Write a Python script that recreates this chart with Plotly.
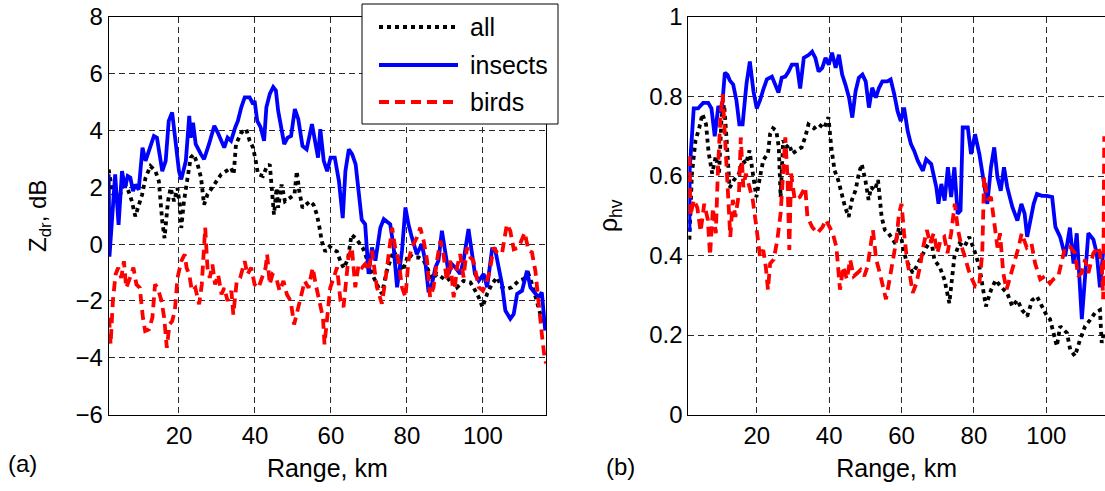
import plotly.graph_objects as go

# ---------------- data: Zdr (left panel) ----------------
zdr_ins_x = [1.5, 1.7, 3.2, 4.1, 5.0, 5.8, 6.5, 7.2, 7.9, 8.5, 9.4, 9.8, 10.4, 11.2, 12.0, 13.4, 14.2, 15.6, 16.5, 17.3,
             18.2, 19.1, 20.0, 20.6, 21.8, 22.7, 23.1, 23.7, 24.4, 25.8, 26.6, 27.9, 29.3, 30.2, 31.2, 31.9, 32.8, 33.7, 34.8, 35.5,
             36.4, 37.3, 38.6, 39.5, 39.9, 40.6, 41.5, 42.4, 43.0, 43.9, 44.8, 45.5, 46.1, 47.0, 47.7, 48.6, 49.5, 50.5, 51.4, 52.5,
             53.6, 55.0, 55.7, 56.6, 57.2, 58.1, 59.0, 59.9, 61.0, 62.1, 63.1, 63.8, 64.7, 65.6, 66.5, 67.3, 68.1, 69.0, 69.9, 70.8,
             71.7, 73.0, 73.9, 75.6, 76.5, 77.4, 78.7, 79.6, 80.4, 81.3, 82.6, 83.9, 84.8, 85.7, 86.6, 87.5, 88.3, 89.2, 90.1, 91.0,
             91.8, 92.7, 94.0, 94.9, 96.2, 97.1, 97.9, 98.9, 100.2, 101.1, 102.4, 103.2, 104.1, 105.0, 105.9, 107.2, 108.1, 109.0, 110.3, 111.6,
             112.5, 113.3, 114.6, 115.5, 116.4]
zdr_ins_y = [2.46, -0.44, 2.46, 0.68, 2.57, 1.98, 2.4, 2.34, 1.87, 2.1, 1.92, 2.57, 3.4, 2.93, 3.28, 3.81, 3.75, 2.57, 2.93, 4.34,
             4.64, 3.64, 2.57, 2.28, 2.93, 4.52, 3.75, 4.28, 3.52, 3.16, 2.99, 3.52, 4.17, 3.93, 3.58, 3.4, 3.75, 3.64, 4.11, 4.34,
             4.82, 5.17, 5.17, 4.93, 5.05, 4.34, 4.11, 3.64, 4.82, 5.29, 5.53, 5.41, 4.7, 3.93, 3.52, 3.75, 3.81, 4.76, 4.4, 3.46,
             3.34, 4.23, 3.75, 3.05, 4.05, 2.93, 2.57, 3.05, 3.05, 2.22, 0.92, 2.57, 3.34, 3.16, 2.81, 1.75, 0.86, 0.7, -1.05, -0.12,
             -0.58, 0.58, 0.88, 0.7, -0.12, -1.52, -0.23, 1.29, 0.7, 0.23, -0.35, 0.0, -0.58, -1.7, -1.4, -0.82, -0.58, 0.47, -0.35, -1.05,
             -0.7, -0.82, -1.05, -0.58, 0.53, -0.35, -1.05, -1.29, -1.05, -1.52, -0.18, -0.18, -0.82, -1.4, -2.34, -2.63, -2.46, -1.75, -1.64, -0.94,
             -1.52, -1.64, -1.87, -1.7, -3.04]

zdr_all_x = [1.5, 2.5, 4.0, 5.5, 6.7, 7.6, 8.5, 9.4, 10.3, 11.2, 12.5, 13.8, 14.7, 15.6, 16.2, 17.1, 17.8, 18.7, 19.6, 20.3,
             20.6, 21.3, 22.2, 23.1, 23.9, 24.9, 25.8, 26.6, 27.5, 28.6, 29.7, 31.1, 32.4, 33.7, 34.4, 35.0, 36.4, 37.7, 38.6, 39.5,
             40.2, 40.8, 42.1, 43.0, 43.9, 44.3, 45.0, 45.7, 46.1, 47.0, 47.9, 49.2, 50.4, 51.0, 51.6, 52.5, 53.4, 54.5, 55.4, 56.3,
             57.0, 57.6, 58.5, 59.6, 60.7, 61.6, 62.5, 63.4, 64.5, 65.4, 66.5, 67.3, 68.4, 69.1, 70.8, 72.5, 73.4, 74.7, 76.5, 77.8,
             78.9, 80.4, 81.8, 83.1, 84.4, 85.7, 86.6, 87.9, 89.2, 90.5, 91.8, 93.2, 94.9, 96.7, 97.5, 98.9, 99.9, 101.1, 102.4, 103.7,
             105.0, 106.3, 107.6, 109.4, 110.7, 112.0, 112.9, 113.8, 115.1, 116.4]
zdr_all_y = [2.63, 1.8, 1.5, 2.2, 1.87, 1.51, 0.98, 1.39, 1.75, 2.34, 2.75, 2.57, 2.22, 0.8, 0.21, 1.51, 1.98, 1.51, 1.98, 1.28,
             0.57, 1.51, 2.34, 3.05, 3.16, 2.81, 2.34, 1.39, 1.75, 1.98, 2.16, 2.46, 2.57, 2.69, 2.46, 3.52, 3.93, 4.05, 3.64, 3.4,
             2.93, 2.46, 2.4, 2.69, 2.81, 2.1, 1.04, 1.98, 1.28, 2.1, 1.51, 1.63, 1.75, 2.57, 1.92, 1.28, 1.39, 1.51, 1.39, 1.04,
             0.57, 0.09, -0.26, -0.08, -0.2, -0.26, -0.61, -0.85, -0.5, 0.33, 0.21, 0.04, -0.14, -0.38, -1.05, -1.52, -1.75, -0.94, -0.23, -0.58,
             -0.94, -0.35, -0.47, -0.47, -0.58, -0.94, -1.23, -1.05, -1.17, -1.29, -1.17, -1.52, -1.29, -1.35, -1.52, -1.87, -2.22, -1.75, -1.4, -1.17,
             -1.52, -1.58, -1.52, -1.29, -1.23, -1.05, -1.4, -1.87, -2.46, -2.92]

zdr_brd_x = [1.6, 2.0, 2.6, 3.3, 4.0, 4.8, 5.5, 6.1, 7.1, 8.0, 8.8, 9.7, 10.5, 11.1, 12.1, 13.0, 13.7, 14.4, 15.4, 16.1,
             16.8, 17.5, 18.2, 18.9, 19.6, 20.6, 21.5, 22.0, 22.7, 23.4, 24.3, 25.3, 26.0, 26.9, 27.5, 28.1, 28.8, 29.5, 30.3, 31.2,
             31.9, 32.8, 33.8, 34.3, 35.2, 36.1, 37.3, 38.0, 39.0, 39.9, 40.9, 41.8, 42.8, 43.2, 43.9, 44.6, 45.6, 46.5, 47.5, 48.4,
             49.4, 50.3, 51.3, 52.2, 53.1, 54.1, 55.2, 56.0, 56.9, 57.9, 58.3, 59.0, 59.8, 60.7, 61.6, 62.5, 63.3, 64.6, 65.5, 66.4,
             67.3, 68.2, 69.0, 69.9, 70.8, 72.1, 73.4, 74.3, 75.2, 76.1, 76.9, 77.8, 78.7, 79.6, 80.4, 81.3, 82.6, 83.5, 84.4, 85.3,
             86.1, 87.0, 87.9, 88.8, 89.6, 90.5, 91.4, 92.3, 93.2, 94.0, 94.9, 95.8, 96.7, 97.5, 98.9, 100.0, 100.8, 101.8, 102.8, 103.7,
             105.0, 106.3, 107.2, 108.1, 109.4, 111.0, 112.0, 112.9, 113.8, 114.6, 115.5, 116.2, 116.6]
zdr_brd_y = [-2.59, -3.53, -2.0, -1.07, -0.83, -1.19, -0.6, -1.54, -1.19, -0.83, -1.42, -1.54, -2.59, -3.06, -3.0, -2.59, -1.42, -1.54, -2.0, -2.59,
             -3.65, -2.83, -2.71, -2.36, -1.19, -0.6, -0.36, -0.83, -1.07, -1.65, -1.54, -2.12, -1.42, 0.58, -0.83, -1.19, -0.72, -1.42, -1.07, -1.77,
             -1.54, -2.0, -1.65, -2.48, -1.3, -1.19, -0.6, -1.07, -0.83, -1.42, -1.54, -1.19, -0.83, -0.36, -1.42, -1.07, -1.19, -1.65, -1.3, -1.77,
             -2.0, -2.83, -2.24, -1.77, -1.3, -1.54, -0.83, -1.42, -2.0, -2.59, -3.53, -2.59, -1.54, -1.19, -0.82, -1.99, -2.22, -0.47, -0.12, -1.52,
             -0.7, -0.82, -0.7, -0.94, -0.23, -1.52, -2.1, -1.29, -0.47, 0.58, -0.12, -0.58, -1.52, -1.87, -0.58, -0.12, 0.23, 0.58, 0.12, -0.58,
             -1.87, -1.52, -0.58, 0.12, -0.35, -1.29, -0.58, -1.87, -0.82, -0.35, -1.17, -0.12, -0.47, -0.58, -1.52, -1.64, -1.4, -0.94, -0.12, -0.29,
             -0.35, 0.7, 0.47, -0.18, -0.12, 0.41, -0.23, -0.29, -0.94, -2.1, -3.16, -3.98, -4.2]

# ---------------- data: rho_hv (right panel) ----------------
rho_ins_x = [1.4, 1.5, 2.1, 2.6, 3.8, 5.2, 6.6, 7.5, 8.4, 9.4, 10.3, 11.2, 11.9, 12.6, 13.5, 14.4, 15.2, 16.1, 16.8, 17.2,
             18.1, 19.1, 20.0, 20.9, 21.9, 22.8, 24.2, 25.1, 26.0, 26.9, 27.9, 28.8, 29.7, 31.1, 32.0, 33.0, 34.4, 35.3, 36.2, 37.1,
             38.1, 39.0, 39.9, 40.8, 41.8, 42.7, 43.6, 44.5, 45.5, 46.4, 47.3, 48.2, 49.2, 50.1, 51.0, 51.9, 52.9, 53.8, 54.7, 56.1,
             57.0, 58.0, 58.9, 59.8, 60.7, 61.7, 62.6, 63.5, 64.5, 65.9, 66.8, 68.2, 69.6, 70.2, 71.0, 71.9, 72.8, 73.7, 74.6, 75.5,
             76.3, 76.9, 78.3, 79.2, 80.3, 81.5, 82.4, 83.7, 84.7, 85.6, 86.5, 87.4, 88.3, 89.2, 90.6, 92.0, 93.1, 94.0, 94.7, 95.6,
             96.5, 97.4, 98.8, 100.2, 101.6, 102.5, 103.8, 105.2, 106.5, 107.5, 108.4, 109.8, 110.7, 111.6, 113.0, 113.9, 114.8, 115.7]
rho_ins_y = [0.46, 0.62, 0.7, 0.77, 0.77, 0.784, 0.784, 0.77, 0.70, 0.776, 0.76, 0.86, 0.855, 0.84, 0.83, 0.79, 0.73, 0.73, 0.797, 0.834,
             0.888, 0.813, 0.77, 0.79, 0.82, 0.843, 0.85, 0.83, 0.81, 0.847, 0.85, 0.863, 0.88, 0.88, 0.82, 0.897, 0.905, 0.913, 0.897, 0.863,
             0.872, 0.897, 0.88, 0.91, 0.872, 0.905, 0.855, 0.83, 0.797, 0.747, 0.813, 0.847, 0.855, 0.838, 0.772, 0.822, 0.797, 0.822, 0.838, 0.838,
             0.843, 0.805, 0.763, 0.738, 0.772, 0.713, 0.68, 0.663, 0.638, 0.613, 0.642, 0.63, 0.572, 0.53, 0.58, 0.538, 0.622, 0.547, 0.622, 0.505,
             0.513, 0.722, 0.722, 0.655, 0.705, 0.655, 0.597, 0.53, 0.622, 0.672, 0.597, 0.563, 0.622, 0.572, 0.522, 0.488, 0.53, 0.505, 0.447, 0.488,
             0.53, 0.555, 0.55, 0.55, 0.547, 0.472, 0.447, 0.398, 0.47, 0.38, 0.456, 0.24, 0.356, 0.456, 0.44, 0.406, 0.32, 0.41]

rho_all_x = [1.4, 2.1, 3.1, 4.1, 5.0, 6.0, 6.7, 7.7, 8.7, 9.6, 10.3, 11.0, 11.7, 12.5, 13.7, 15.1, 16.1, 17.0, 18.0, 18.9,
             19.9, 20.9, 21.8, 23.1, 23.7, 24.5, 25.4, 26.1, 26.6, 27.3, 28.1, 29.0, 29.8, 31.0, 32.4, 33.4, 34.3, 35.8, 37.2, 38.6,
             39.8, 40.6, 41.5, 42.5, 43.4, 44.4, 45.4, 46.3, 47.3, 48.2, 49.0, 50.0, 50.9, 51.6, 52.6, 53.5, 54.5, 55.4, 56.4, 57.4,
             58.3, 59.3, 60.3, 61.2, 62.2, 63.1, 64.1, 65.5, 66.8, 68.2, 69.1, 70.5, 71.9, 73.2, 74.6, 76.0, 77.4, 78.7, 80.1, 81.5,
             83.3, 84.7, 86.0, 87.4, 89.2, 90.6, 92.0, 93.3, 94.7, 96.1, 97.4, 98.8, 100.2, 101.0, 102.0, 102.9, 103.8, 105.7, 106.6, 107.9,
             109.3, 110.7, 112.1, 113.4, 114.8, 115.3, 115.9]
rho_all_y = [0.44, 0.606, 0.69, 0.72, 0.756, 0.73, 0.66, 0.606, 0.65, 0.606, 0.75, 0.78, 0.69, 0.57, 0.59, 0.606, 0.64, 0.63, 0.664, 0.606,
             0.547, 0.597, 0.64, 0.656, 0.706, 0.72, 0.714, 0.672, 0.547, 0.69, 0.672, 0.68, 0.656, 0.664, 0.672, 0.698, 0.73, 0.72, 0.73, 0.72,
             0.748, 0.672, 0.614, 0.59, 0.556, 0.522, 0.497, 0.54, 0.564, 0.606, 0.63, 0.59, 0.54, 0.572, 0.564, 0.59, 0.497, 0.464, 0.456, 0.44,
             0.43, 0.47, 0.422, 0.39, 0.372, 0.356, 0.372, 0.397, 0.42, 0.438, 0.388, 0.372, 0.338, 0.28, 0.397, 0.43, 0.422, 0.447, 0.413, 0.372,
             0.272, 0.313, 0.338, 0.322, 0.305, 0.272, 0.288, 0.263, 0.247, 0.288, 0.297, 0.272, 0.247, 0.24, 0.205, 0.172, 0.222, 0.205, 0.163, 0.147,
             0.188, 0.222, 0.238, 0.255, 0.263, 0.18, 0.206]

rho_brd_x = [1.4, 1.7, 2.6, 3.6, 4.5, 5.5, 6.5, 7.1, 7.9, 8.7, 9.3, 10.0, 10.6, 11.3, 11.9, 12.7, 13.4, 14.1, 15.1, 15.6,
             16.3, 17.0, 18.0, 18.9, 19.9, 20.9, 21.8, 22.5, 23.1, 23.7, 24.7, 25.7, 26.6, 27.3, 27.9, 28.5, 29.0, 29.5, 30.5, 31.9,
             33.4, 34.0, 35.3, 36.7, 38.2, 39.1, 40.1, 41.0, 42.0, 43.0, 43.9, 44.9, 45.8, 46.8, 47.8, 48.7, 49.7, 50.6, 52.1, 53.0,
             54.0, 55.0, 55.7, 56.7, 57.7, 58.6, 59.3, 60.0, 60.7, 61.5, 62.5, 63.1, 64.1, 65.1, 66.0, 67.0, 67.9, 68.9, 69.9, 70.8,
             71.8, 72.7, 73.7, 74.7, 75.6, 76.6, 77.5, 78.5, 79.5, 80.4, 81.4, 82.3, 82.8, 83.8, 84.7, 85.7, 86.5, 87.2, 88.1, 89.0,
             90.9, 92.3, 93.2, 94.6, 95.9, 96.9, 98.3, 99.6, 101.0, 101.9, 103.3, 104.2, 105.2, 106.5, 107.9, 108.8, 109.8, 110.7, 111.6, 113.0,
             114.4, 115.3, 115.7, 116.0]
rho_brd_y = [0.65, 0.5, 0.54, 0.52, 0.46, 0.53, 0.49, 0.4, 0.52, 0.456, 0.62, 0.75, 0.806, 0.69, 0.62, 0.447, 0.54, 0.497, 0.556, 0.697,
             0.572, 0.606, 0.572, 0.54, 0.472, 0.397, 0.414, 0.372, 0.314, 0.38, 0.39, 0.44, 0.506, 0.622, 0.697, 0.597, 0.414, 0.606, 0.54, 0.547,
             0.572, 0.497, 0.472, 0.456, 0.472, 0.49, 0.472, 0.456, 0.422, 0.314, 0.372, 0.34, 0.39, 0.348, 0.356, 0.364, 0.348, 0.372, 0.464, 0.39,
             0.356, 0.322, 0.29, 0.34, 0.39, 0.44, 0.506, 0.53, 0.456, 0.39, 0.34, 0.306, 0.33, 0.372, 0.422, 0.464, 0.43, 0.456, 0.406, 0.44,
             0.447, 0.406, 0.456, 0.53, 0.464, 0.422, 0.397, 0.364, 0.34, 0.322, 0.322, 0.406, 0.597, 0.54, 0.547, 0.472, 0.42, 0.456, 0.356, 0.314,
             0.372, 0.42, 0.456, 0.42, 0.43, 0.38, 0.34, 0.348, 0.33, 0.34, 0.348, 0.38, 0.422, 0.422, 0.406, 0.348, 0.356, 0.39, 0.356, 0.406,
             0.422, 0.38, 0.29, 0.7]

series_names = ["all", "insects", "birds"]
x_ticks = [20, 40, 60, 80, 100]

for nm, xs, ys in [("zdr_ins", zdr_ins_x, zdr_ins_y), ("zdr_all", zdr_all_x, zdr_all_y), ("zdr_brd", zdr_brd_x, zdr_brd_y),
                   ("rho_ins", rho_ins_x, rho_ins_y), ("rho_all", rho_all_x, rho_all_y), ("rho_brd", rho_brd_x, rho_brd_y)]:
    assert len(xs) == len(ys), (nm, len(xs), len(ys))

FONT = "Liberation Sans, Arial, sans-serif"
styles = {
    "all": dict(color="black", width=3.8, dash="4px,4px"),
    "insects": dict(color="#0000FF", width=3.8, dash="solid"),
    "birds": dict(color="#FF0000", width=3.8, dash="10px,6px"),
}

fig = go.Figure()
left = {"all": (zdr_all_x, zdr_all_y), "insects": (zdr_ins_x, zdr_ins_y), "birds": (zdr_brd_x, zdr_brd_y)}
right = {"all": (rho_all_x, rho_all_y), "insects": (rho_ins_x, rho_ins_y), "birds": (rho_brd_x, rho_brd_y)}
for nm in series_names:
    xs, ys = left[nm]
    fig.add_trace(go.Scatter(x=xs, y=ys, mode="lines", name=nm, line=styles[nm], showlegend=False,
                             xaxis="x", yaxis="y"))
for nm in series_names:
    xs, ys = right[nm]
    fig.add_trace(go.Scatter(x=xs, y=ys, mode="lines", name=nm, line=styles[nm], showlegend=False,
                             xaxis="x2", yaxis="y2"))

W, H = 1105, 491
def px(x):
    return x / W
def py(y):
    return 1 - y / H

ydom = [py(414.5), py(17)]
common = dict(showgrid=True, gridcolor="#2a2a2a", gridwidth=1, griddash="6px,4px", automargin=False,
              showline=True, linecolor="black", linewidth=1, zeroline=False, ticks="",
              tickfont=dict(family=FONT, size=24, color="black"))

# legend box drawn in the top-right corner of panel (a)
leg_box = [362, 4, 558, 124]
leg_rows = [27, 65, 102]
shapes = [dict(type="rect", xref="paper", yref="paper", x0=px(leg_box[0]), x1=px(leg_box[2]),
               y0=py(leg_box[3]), y1=py(leg_box[1]), fillcolor="white", line=dict(color="black", width=1), layer="above")]
annotations = []
for nm, yy in zip(series_names, leg_rows):
    shapes.append(dict(type="line", xref="paper", yref="paper", x0=px(379), x1=px(458), y0=py(yy), y1=py(yy),
                       line=styles[nm], layer="above"))
    annotations.append(dict(text=nm, xref="paper", yref="paper", x=px(468), y=py(yy), xanchor="left",
                            yanchor="middle", showarrow=False, font=dict(family=FONT, size=25, color="black")))
annotations += [
    dict(text="(a)", xref="paper", yref="paper", x=px(6), y=py(463), xanchor="left", yanchor="middle",
         showarrow=False, font=dict(family=FONT, size=24, color="black")),
    dict(text="(b)", xref="paper", yref="paper", x=px(604), y=py(466), xanchor="left", yanchor="middle",
         showarrow=False, font=dict(family=FONT, size=24, color="black")),
]

fig.update_layout(
    template="none",
    width=W, height=H, margin=dict(l=0, r=0, t=0, b=0, autoexpand=False),
    paper_bgcolor="white", plot_bgcolor="white", showlegend=False,
    font=dict(family=FONT, size=24, color="black"),
    xaxis=dict(domain=[px(108.7), px(546)], range=[1.5, 116.6], tickvals=x_ticks, mirror=True, anchor="y",
               title=dict(text="Range, km", font=dict(size=25), standoff=11), **common),
    yaxis=dict(domain=ydom, range=[-6, 8], tick0=0, dtick=2, mirror=True, anchor="x",
               title=dict(text="Z<sub>dr</sub>, dB", font=dict(size=24), standoff=22), **common),
    xaxis2=dict(domain=[px(688.3), 1.0], range=[1.1, 116.2], tickvals=x_ticks, mirror=True, anchor="y2",
                title=dict(text="Range, km", font=dict(size=25), standoff=11), **common),
    yaxis2=dict(domain=ydom, range=[0, 1], tick0=0, dtick=0.2, mirror=False, anchor="x2",
                title=dict(text="ρ<sub>hv</sub>", font=dict(size=25), standoff=24), **common),
    shapes=shapes,
    annotations=annotations,
)

fig.write_html("out.html")
